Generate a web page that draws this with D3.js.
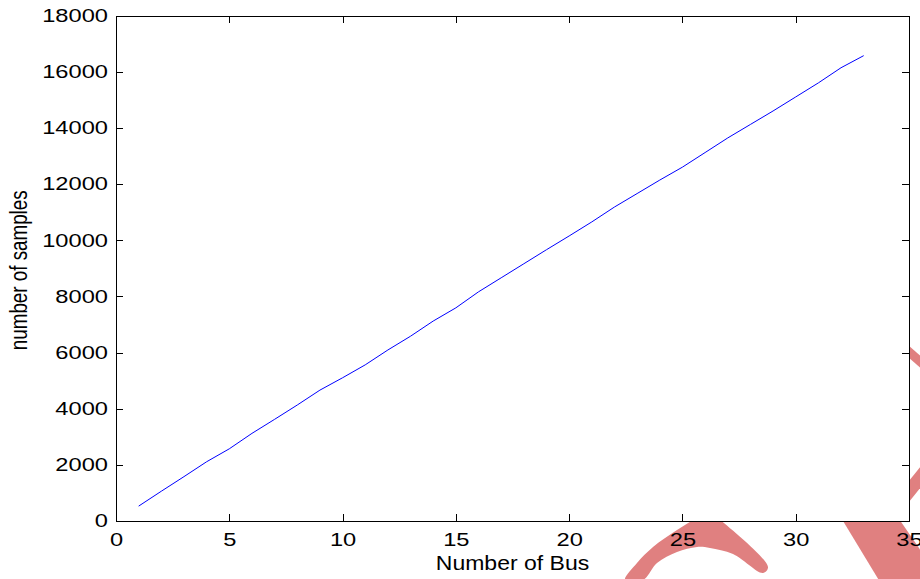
<!DOCTYPE html>
<html lang="en">
<head>
<meta charset="UTF-8" />
<title>number of samples vs Number of Bus</title>
<script src="https://cdn.jsdelivr.net/npm/d3@7"></script>
<style>
    html,
    body {
        margin: 0;
        padding: 0;
        background: #fff;
    }

    svg {
        display: block;
    }

    text {
        font-family: "Liberation Sans", Arial, sans-serif;
        fill: #000;
    }
</style>
</head>
<body>
<svg id="chart" width="920" height="579"></svg>
<script>
    // data
    const buses = [1, 2, 3, 4, 5, 6, 7, 8, 9, 10, 11, 12, 13, 14, 15, 16, 17,
        18, 19, 20, 21, 22, 23, 24, 25, 26, 27, 28, 29, 30, 31, 32, 33];
    const samples = [530, 1060, 1580, 2110, 2570, 3120, 3620, 4130, 4660, 5100,
        5560, 6090, 6580, 7120, 7590, 8160, 8660, 9160, 9660, 10150, 10650,
        11180, 11660, 12140, 12600, 13120, 13640, 14120, 14600, 15100, 15600,
        16140, 16570];
    const xTicks = [0, 5, 10, 15, 20, 25, 30, 35];
    const yTicks = [0, 2000, 4000, 6000, 8000, 10000, 12000, 14000, 16000, 18000];

    const xLabel = "Number of Bus";
    const yLabel = "number of samples";

    // layout
    const boxLeft = 116, boxRight = 909, boxTop = 15.5, boxBottom = 521;
    const fontSize = 18.5;
    const stretch = 1.28; // the figure is wider than it is tall, text too
    const markColor = "#e08080";

    const svg = d3.select("#chart");

    // watermark pieces that peek out round the axes box
    const wm = svg.append("g").attr("fill", markColor);
    const blob = d3.line().curve(d3.curveCatmullRomClosed);
    wm.append("path").attr("d", blob([
        [625, 580], [637, 563], [653, 547], [677, 530], [697, 518], [710, 512],
        [718, 518], [768, 567], [763, 573], [733, 554], [710, 548], [697, 547],
        [677, 552], [657, 563], [643, 580]
    ]));
    wm.append("path").attr("d", d3.line()([[900, 338], [925, 360], [925, 372], [900, 350]]));
    wm.append("path").attr("d", d3.line()([[900, 492], [925, 461], [925, 482], [900, 513]]));
    wm.append("path").attr("d", d3.line()([[840, 516], [897, 516], [930, 564], [930, 582], [880, 582]]));

    // axes box
    svg.append("rect")
        .attr("x", boxLeft).attr("y", boxTop)
        .attr("width", boxRight - boxLeft).attr("height", boxBottom - boxTop)
        .attr("fill", "#fff");

    const x = d3.scaleLinear().domain([0, 35]).range([boxLeft, boxRight]);
    const y = d3.scaleLinear().domain([0, 18000]).range([boxBottom, boxTop]);

    function styleAxis(g) {
        g.selectAll("path, line")
            .attr("stroke", "#000")
            .attr("shape-rendering", "crispEdges");
        g.selectAll("text")
            .style("font-size", fontSize + "px")
            .attr("fill", "#000");
    }

    const gx = svg.append("g")
        .attr("transform", `translate(0,${boxBottom})`)
        .call(d3.axisBottom(x).tickValues(xTicks).tickFormat(d3.format("d"))
            .tickSize(-7).tickSizeOuter(0).tickPadding(12))
        .call(styleAxis);
    gx.selectAll("text").each(function () {
        const t = d3.select(this);
        const ty = +t.attr("y");
        t.attr("y", 0).attr("transform", `translate(0,${ty}) scale(${stretch},1)`);
    });

    const gy = svg.append("g")
        .attr("transform", `translate(${boxLeft},0)`)
        .call(d3.axisLeft(y).tickValues(yTicks).tickFormat(d3.format("d"))
            .tickSize(-7).tickSizeOuter(0).tickPadding(8))
        .call(styleAxis);
    gy.selectAll("text").each(function () {
        const t = d3.select(this);
        const tx = +t.attr("x");
        t.attr("x", 0).attr("transform", `translate(${tx},0) scale(${stretch},1)`);
    });

    svg.append("g")
        .attr("transform", `translate(0,${boxTop})`)
        .call(d3.axisTop(x).tickValues(xTicks).tickSize(-7).tickSizeOuter(0).tickFormat(""))
        .call(styleAxis);

    svg.append("g")
        .attr("transform", `translate(${boxRight},0)`)
        .call(d3.axisRight(y).tickValues(yTicks).tickSize(-7).tickSizeOuter(0).tickFormat(""))
        .call(styleAxis);

    // the series
    const points = buses.map((b, i) => [b, samples[i]]);
    svg.append("path")
        .datum(points)
        .attr("fill", "none")
        .attr("stroke", "#0000ff")
        .attr("stroke-width", 1)
        .attr("d", d3.line().x(d => x(d[0])).y(d => y(d[1])));

    // axis labels
    svg.append("text")
        .attr("transform", `translate(${(boxLeft + boxRight) / 2},570) scale(1.15,1)`)
        .attr("text-anchor", "middle")
        .style("font-size", "20px")
        .text(xLabel);

    svg.append("text")
        .attr("transform", `translate(27,${(boxTop + boxBottom) / 2 + 2}) scale(1.25,1) rotate(-90)`)
        .attr("text-anchor", "middle")
        .style("font-size", "18.8px")
        .text(yLabel);
</script>
</body>
</html>
